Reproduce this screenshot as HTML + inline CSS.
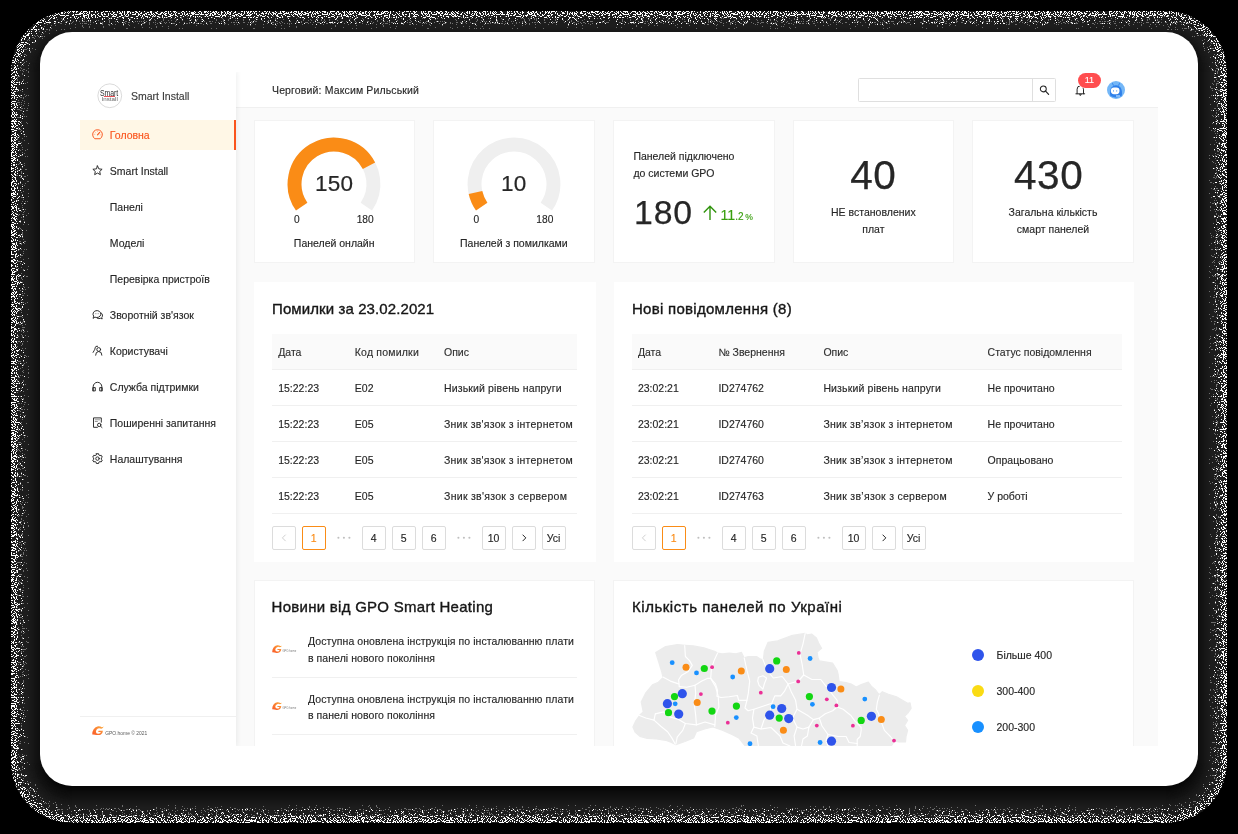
<!DOCTYPE html>
<html lang="uk">
<head>
<meta charset="utf-8">
<title>Smart Install</title>
<style>
*{box-sizing:border-box;margin:0;padding:0}
html,body{width:1238px;height:834px;overflow:hidden;background:#000}
body{font-family:"Liberation Sans",sans-serif;font-size:10.5px;color:#262626;position:relative;-webkit-text-stroke:.14px}
.abs{position:absolute}
#halo{position:absolute;left:0;top:0;width:1238px;height:834px}
#card{position:absolute;left:40px;top:32px;width:1158px;height:754px;background:#fff;border-radius:32px}
#app{opacity:.999;position:absolute;left:80px;top:72px;width:1078px;height:674px;overflow:hidden;background:#fafafa}
/* sidebar */
#side{position:absolute;left:0;top:0;width:156px;height:674px;background:#fff;box-shadow:1px 0 5px rgba(29,35,41,.08);z-index:3}
.mi{position:absolute;left:0;width:156px;height:30px;line-height:30px;padding-left:29.8px;font-size:10.5px;color:#262626;white-space:nowrap}
.mi.act{background:#fff7e6;color:#fa541c}
.mi.act:after{content:"";position:absolute;right:0;top:0;width:2.5px;height:30px;background:#fa541c}
.mi svg{position:absolute;left:11.7px;top:8.6px;width:11px;height:11px;overflow:visible}
/* header */
#head{position:absolute;left:156px;top:0;width:922px;height:35.6px;background:#fff;border-bottom:1px solid #f0f0f0;z-index:2}
/* panels */
.pn{position:absolute;background:#fff;border:1px solid #f3f3f3}
.pw{position:absolute;background:#fff}
.t{position:absolute;white-space:nowrap;line-height:18px}
.c{text-align:center}
</style>
</head>
<body>
<svg id="halo" width="1238" height="834" viewBox="0 0 1238 834">
<defs>
<clipPath id="hc"><rect x="11" y="11" width="1216" height="812" rx="61"/></clipPath>
<filter id="nz" x="0" y="0" width="1238" height="834" filterUnits="userSpaceOnUse" color-interpolation-filters="sRGB">
<feTurbulence type="fractalNoise" baseFrequency="0.85" numOctaves="1" seed="7" result="n"/>
<feColorMatrix in="n" type="matrix" values="0 0 0 0 0 0 0 0 0 0 0 0 0 0 0 2.5 0 0 0 -.75" result="na"/>
<feComposite in="SourceGraphic" in2="na" operator="arithmetic" k1="0" k2="1" k3="-1" k4="0" result="d"/>
<feColorMatrix in="d" type="matrix" values="0 0 0 0 1 0 0 0 0 1 0 0 0 0 1 0 0 0 255 0"/>
</filter>
<filter id="ng" x="0" y="0" width="1238" height="834" filterUnits="userSpaceOnUse" color-interpolation-filters="sRGB">
<feTurbulence type="fractalNoise" baseFrequency="0.85" numOctaves="1" seed="23" result="n"/>
<feColorMatrix in="n" type="matrix" values="0 0 0 0 0 0 0 0 0 0 0 0 0 0 0 2.5 0 0 0 -.75" result="na"/>
<feComposite in="SourceGraphic" in2="na" operator="arithmetic" k1="0" k2="1" k3="-1" k4="0" result="d"/>
<feColorMatrix in="d" type="matrix" values="0 0 0 0 1 0 0 0 0 1 0 0 0 0 1 0 0 0 255 0"/>
</filter>
</defs>
<rect x="11" y="11" width="1216" height="812" rx="61" fill="#1d1d1d"/>
<g clip-path="url(#hc)">
<rect x="27" y="27" width="1184" height="780" rx="45" fill="rgb(28,28,28)"/>
<rect x="28" y="28" width="1182" height="778" rx="44" fill="rgb(27,27,27)"/>
<rect x="29" y="29" width="1180" height="776" rx="43" fill="rgb(26,26,26)"/>
<rect x="30" y="30" width="1178" height="774" rx="42" fill="rgb(25,25,25)"/>
<rect x="31" y="31" width="1176" height="772" rx="41" fill="rgb(24,24,24)"/>
<rect x="32" y="32" width="1174" height="770" rx="40" fill="rgb(23,23,23)"/>
<rect x="33" y="33" width="1172" height="768" rx="39" fill="rgb(22,22,22)"/>
<rect x="34" y="34" width="1170" height="766" rx="38" fill="rgb(20,20,20)"/>
<rect x="35" y="35" width="1168" height="764" rx="37" fill="rgb(19,19,19)"/>
<rect x="36" y="36" width="1166" height="762" rx="36" fill="rgb(18,18,18)"/>
<rect x="37" y="37" width="1164" height="760" rx="35" fill="rgb(17,17,17)"/>
<rect x="38" y="38" width="1162" height="758" rx="34" fill="rgb(16,16,16)"/>
<rect x="39" y="39" width="1160" height="756" rx="33" fill="rgb(15,15,15)"/>
<rect x="40" y="40" width="1158" height="754" rx="32" fill="rgb(14,14,14)"/>
<rect x="41" y="41" width="1156" height="752" rx="31" fill="rgb(13,13,13)"/>
<rect x="42" y="42" width="1154" height="750" rx="30" fill="rgb(12,12,12)"/>
<rect x="43" y="43" width="1152" height="748" rx="29" fill="rgb(10,10,10)"/>
<rect x="44" y="44" width="1150" height="746" rx="28" fill="rgb(9,9,9)"/>
<rect x="45" y="45" width="1148" height="744" rx="27" fill="rgb(8,8,8)"/>
<rect x="46" y="46" width="1146" height="742" rx="26" fill="rgb(7,7,7)"/>
<rect x="47" y="47" width="1144" height="740" rx="25" fill="rgb(6,6,6)"/>
<rect x="48" y="48" width="1142" height="738" rx="24" fill="rgb(5,5,5)"/>
<g opacity="0.36"><g filter="url(#ng)" fill="none" stroke="#fff" stroke-width="1.05">
<rect x="16.5" y="16.5" width="1205" height="801" rx="55.5" stroke-opacity="0.08"/>
<rect x="17.5" y="17.5" width="1203" height="799" rx="54.5" stroke-opacity="0.14"/>
<rect x="18.5" y="18.5" width="1201" height="797" rx="53.5" stroke-opacity="0.2"/>
<rect x="19.5" y="19.5" width="1199" height="795" rx="52.5" stroke-opacity="0.22"/>
<rect x="20.5" y="20.5" width="1197" height="793" rx="51.5" stroke-opacity="0.22"/>
<rect x="21.5" y="21.5" width="1195" height="791" rx="50.5" stroke-opacity="0.2"/>
<rect x="22.5" y="22.5" width="1193" height="789" rx="49.5" stroke-opacity="0.18"/>
<rect x="23.5" y="23.5" width="1191" height="787" rx="48.5" stroke-opacity="0.15"/>
<rect x="24.5" y="24.5" width="1189" height="785" rx="47.5" stroke-opacity="0.12"/>
<rect x="25.5" y="25.5" width="1187" height="783" rx="46.5" stroke-opacity="0.09"/>
<rect x="26.5" y="26.5" width="1185" height="781" rx="45.5" stroke-opacity="0.07"/>
<rect x="27.5" y="27.5" width="1183" height="779" rx="44.5" stroke-opacity="0.05"/>
<rect x="28.5" y="28.5" width="1181" height="777" rx="43.5" stroke-opacity="0.03"/>
</g></g>
<g filter="url(#nz)" fill="none" stroke="#fff" stroke-width="1.05">
<rect x="11.5" y="11.5" width="1215" height="811" rx="60.5" stroke-opacity="0.45"/>
<rect x="12.5" y="12.5" width="1213" height="809" rx="59.5" stroke-opacity="0.45"/>
<rect x="13.5" y="13.5" width="1211" height="807" rx="58.5" stroke-opacity="0.44"/>
<rect x="14.5" y="14.5" width="1209" height="805" rx="57.5" stroke-opacity="0.42"/>
<rect x="15.5" y="15.5" width="1207" height="803" rx="56.5" stroke-opacity="0.38"/>
<rect x="16.5" y="16.5" width="1205" height="801" rx="55.5" stroke-opacity="0.33"/>
<rect x="17.5" y="17.5" width="1203" height="799" rx="54.5" stroke-opacity="0.26"/>
<rect x="18.5" y="18.5" width="1201" height="797" rx="53.5" stroke-opacity="0.2"/>
<rect x="19.5" y="19.5" width="1199" height="795" rx="52.5" stroke-opacity="0.15"/>
<rect x="20.5" y="20.5" width="1197" height="793" rx="51.5" stroke-opacity="0.11"/>
<rect x="21.5" y="21.5" width="1195" height="791" rx="50.5" stroke-opacity="0.08"/>
<rect x="22.5" y="22.5" width="1193" height="789" rx="49.5" stroke-opacity="0.06"/>
<rect x="23.5" y="23.5" width="1191" height="787" rx="48.5" stroke-opacity="0.04"/>
<rect x="24.5" y="24.5" width="1189" height="785" rx="47.5" stroke-opacity="0.03"/>
</g>
</g>
</svg>
<div id="card"></div>
<div id="app">
<div class="pn" style="left:173.60px;top:47.60px;width:161.80px;height:143.30px;"></div>
<div class="pn" style="left:353.25px;top:47.60px;width:161.80px;height:143.30px;"></div>
<div class="pn" style="left:532.90px;top:47.60px;width:161.80px;height:143.30px;"></div>
<div class="pn" style="left:712.55px;top:47.60px;width:161.80px;height:143.30px;"></div>
<div class="pn" style="left:892.20px;top:47.60px;width:161.80px;height:143.30px;"></div>
<svg class="abs" style="left:204.00px;top:61.80px;width:100px;height:100px" viewBox="-50 -50 100 100" fill="none" stroke-width="13.9"><path d="M-32.32 22.63A39.45 39.45 0 1 1 32.32 22.63" stroke="#efefef"/><path d="M-32.32 22.63A39.45 39.45 0 1 1 34.99 -18.22" stroke="#fa8c16"/></svg>
<div class="t" style="top:103.20px;font-size:22.5px;left:104.20px;width:300px;text-align:center;color:#262626;-webkit-text-stroke:.2px #262626;letter-spacing:.3px;">150</div>
<div class="t" style="top:139.47px;font-size:10.2px;left:66.80px;width:300px;text-align:center;color:#262626;">0</div>
<div class="t" style="top:139.47px;font-size:10.2px;left:135.20px;width:300px;text-align:center;color:#262626;">180</div>
<div class="t" style="top:161.86px;font-size:10.5px;left:104.20px;width:300px;text-align:center;color:#262626;">Панелей онлайн</div>
<svg class="abs" style="left:383.65px;top:61.80px;width:100px;height:100px" viewBox="-50 -50 100 100" fill="none" stroke-width="13.9"><path d="M-32.32 22.63A39.45 39.45 0 1 1 32.32 22.63" stroke="#efefef"/><path d="M-32.32 22.63A39.45 39.45 0 0 1 -38.51 8.54" stroke="#fa8c16"/></svg>
<div class="t" style="top:103.20px;font-size:22.5px;left:283.85px;width:300px;text-align:center;color:#262626;-webkit-text-stroke:.2px #262626;letter-spacing:.3px;">10</div>
<div class="t" style="top:139.47px;font-size:10.2px;left:246.45px;width:300px;text-align:center;color:#262626;">0</div>
<div class="t" style="top:139.47px;font-size:10.2px;left:314.85px;width:300px;text-align:center;color:#262626;">180</div>
<div class="t" style="top:161.86px;font-size:10.5px;left:283.85px;width:300px;text-align:center;color:#262626;">Панелей з помилками</div>
<div class="t" style="top:75.36px;font-size:10.5px;left:553.40px;">Панелей підключено</div>
<div class="t" style="top:92.26px;font-size:10.5px;left:553.40px;">до системи GPO</div>
<div class="t" style="top:130.71px;font-size:33.75px;left:554.00px;color:#262626;letter-spacing:.9px;-webkit-text-stroke:.25px #262626;">180</div>
<svg class="abs" style="left:621.5px;top:132px;width:16px;height:17px" viewBox="0 0 16 17" fill="none" stroke="#2f930c" stroke-width="1.4"><path d="M8 16V2.4M1.8 8.4L8 2.2L14.2 8.4"/></svg>
<div class="t" style="top:134.08px;font-size:14.2px;left:640.40px;color:#389e0d;">11</div>
<div class="t" style="top:135.53px;font-size:10px;left:655.20px;color:#389e0d;">.2</div>
<div class="t" style="top:136.02px;font-size:8.6px;left:665.20px;color:#389e0d;">%</div>
<div class="t" style="top:94.17px;font-size:40.5px;left:643.35px;width:300px;text-align:center;color:#262626;letter-spacing:.6px;-webkit-text-stroke:.25px #262626;">40</div>
<div class="t" style="top:131.26px;font-size:10.5px;left:643.35px;width:300px;text-align:center;">НЕ встановлених</div>
<div class="t" style="top:147.76px;font-size:10.5px;left:643.35px;width:300px;text-align:center;">плат</div>
<div class="t" style="top:94.17px;font-size:40.5px;left:818.60px;width:300px;text-align:center;color:#262626;letter-spacing:.6px;-webkit-text-stroke:.25px #262626;">430</div>
<div class="t" style="top:131.26px;font-size:10.5px;left:823.00px;width:300px;text-align:center;">Загальна кількість</div>
<div class="t" style="top:147.76px;font-size:10.5px;left:823.00px;width:300px;text-align:center;">смарт панелей</div>
<div class="pw" style="left:173.70px;top:210.00px;width:341.90px;height:280.00px;"></div>
<div class="t" style="top:227.80px;font-size:15px;left:192.00px;font-weight:400;-webkit-text-stroke:.36px #161616;color:#161616;letter-spacing:0.1px;">Помилки за 23.02.2021</div>
<div class="abs" style="left:192px;top:262px;width:305px;height:35.5px;background:#fafafa;border-bottom:1px solid #f0f0f0"></div>
<div class="t" style="top:270.96px;font-size:10.5px;left:198.20px;color:#2e2e2e;">Дата</div>
<div class="t" style="top:270.96px;font-size:10.5px;left:274.80px;color:#2e2e2e;letter-spacing:.2px;">Код помилки</div>
<div class="t" style="top:270.96px;font-size:10.5px;left:364.00px;color:#2e2e2e;">Опис</div>
<div class="abs" style="left:192px;top:333px;width:305px;height:1px;background:#f0f0f0"></div>
<div class="t" style="top:307.16px;font-size:10.5px;left:198.20px;color:#262626;">15:22:23</div>
<div class="t" style="top:307.16px;font-size:10.5px;left:274.80px;color:#262626;">E02</div>
<div class="t" style="top:307.16px;font-size:10.5px;left:364.00px;color:#262626;letter-spacing:0.14px;">Низький рівень напруги</div>
<div class="abs" style="left:192px;top:369px;width:305px;height:1px;background:#f0f0f0"></div>
<div class="t" style="top:343.16px;font-size:10.5px;left:198.20px;color:#262626;">15:22:23</div>
<div class="t" style="top:343.16px;font-size:10.5px;left:274.80px;color:#262626;">E05</div>
<div class="t" style="top:343.16px;font-size:10.5px;left:364.00px;color:#262626;letter-spacing:0.24px;">Зник зв'язок з інтернетом</div>
<div class="abs" style="left:192px;top:405px;width:305px;height:1px;background:#f0f0f0"></div>
<div class="t" style="top:379.16px;font-size:10.5px;left:198.20px;color:#262626;">15:22:23</div>
<div class="t" style="top:379.16px;font-size:10.5px;left:274.80px;color:#262626;">E05</div>
<div class="t" style="top:379.16px;font-size:10.5px;left:364.00px;color:#262626;letter-spacing:0.24px;">Зник зв'язок з інтернетом</div>
<div class="abs" style="left:192px;top:441px;width:305px;height:1px;background:#f0f0f0"></div>
<div class="t" style="top:415.16px;font-size:10.5px;left:198.20px;color:#262626;">15:22:23</div>
<div class="t" style="top:415.16px;font-size:10.5px;left:274.80px;color:#262626;">E05</div>
<div class="t" style="top:415.16px;font-size:10.5px;left:364.00px;color:#262626;letter-spacing:0.29px;">Зник зв'язок з сервером</div>
<div class="abs" style="left:191.60000000000002px;top:453.79999999999995px;width:24px;height:24px;border:1px solid #dcdcdc;border-radius:2px;background:#fff"></div>
<svg class="abs" style="left:191.60000000000002px;top:453.79999999999995px;width:24px;height:24px" viewBox="0 0 24 24" fill="none" stroke="#d0d0d0" stroke-width="1"><path d="M13.6 8.7L10.4 11.9L13.6 15.1"/></svg>
<div class="abs" style="left:221.60000000000002px;top:453.79999999999995px;width:24px;height:24px;border:1px solid #fa8c16;border-radius:2px;background:#fff"></div>
<div class="t" style="top:457.00px;font-size:10.5px;left:83.60px;width:300px;text-align:center;color:#fa8c16;">1</div>
<svg class="abs" style="left:251.60000000000002px;top:453.79999999999995px;width:24px;height:24px" viewBox="0 0 24 24" fill="#bfbfbf"><circle cx="6.4" cy="11.8" r="1.05"/><circle cx="11.9" cy="11.8" r="1.05"/><circle cx="17.4" cy="11.8" r="1.05"/></svg>
<div class="abs" style="left:281.6px;top:453.79999999999995px;width:24px;height:24px;border:1px solid #dcdcdc;border-radius:2px;background:#fff"></div>
<div class="t" style="top:457.00px;font-size:10.5px;left:143.60px;width:300px;text-align:center;color:#262626;">4</div>
<div class="abs" style="left:311.6px;top:453.79999999999995px;width:24px;height:24px;border:1px solid #dcdcdc;border-radius:2px;background:#fff"></div>
<div class="t" style="top:457.00px;font-size:10.5px;left:173.60px;width:300px;text-align:center;color:#262626;">5</div>
<div class="abs" style="left:341.6px;top:453.79999999999995px;width:24px;height:24px;border:1px solid #dcdcdc;border-radius:2px;background:#fff"></div>
<div class="t" style="top:457.00px;font-size:10.5px;left:203.60px;width:300px;text-align:center;color:#262626;">6</div>
<svg class="abs" style="left:371.6px;top:453.79999999999995px;width:24px;height:24px" viewBox="0 0 24 24" fill="#bfbfbf"><circle cx="6.4" cy="11.8" r="1.05"/><circle cx="11.9" cy="11.8" r="1.05"/><circle cx="17.4" cy="11.8" r="1.05"/></svg>
<div class="abs" style="left:401.6px;top:453.79999999999995px;width:24px;height:24px;border:1px solid #dcdcdc;border-radius:2px;background:#fff"></div>
<div class="t" style="top:457.00px;font-size:10.5px;left:263.60px;width:300px;text-align:center;color:#262626;">10</div>
<div class="abs" style="left:431.6px;top:453.79999999999995px;width:24px;height:24px;border:1px solid #dcdcdc;border-radius:2px;background:#fff"></div>
<svg class="abs" style="left:431.6px;top:453.79999999999995px;width:24px;height:24px" viewBox="0 0 24 24" fill="none" stroke="#262626" stroke-width="1"><path d="M10.6 8.7L13.8 11.9L10.6 15.1"/></svg>
<div class="abs" style="left:461.6px;top:453.79999999999995px;width:24px;height:24px;border:1px solid #dcdcdc;border-radius:2px;background:#fff"></div>
<div class="t" style="top:457.00px;font-size:10.5px;left:323.60px;width:300px;text-align:center;color:#262626;">Усі</div>
<div class="pw" style="left:533.70px;top:210.00px;width:520.50px;height:280.00px;"></div>
<div class="t" style="top:227.80px;font-size:15px;left:552.00px;font-weight:400;-webkit-text-stroke:.36px #161616;color:#161616;letter-spacing:0.28px;">Нові повідомлення (8)</div>
<div class="abs" style="left:552px;top:262px;width:490px;height:35.5px;background:#fafafa;border-bottom:1px solid #f0f0f0"></div>
<div class="t" style="top:270.96px;font-size:10.5px;left:557.90px;color:#2e2e2e;">Дата</div>
<div class="t" style="top:270.96px;font-size:10.5px;left:638.40px;color:#2e2e2e;">№ Звернення</div>
<div class="t" style="top:270.96px;font-size:10.5px;left:743.40px;color:#2e2e2e;">Опис</div>
<div class="t" style="top:270.96px;font-size:10.5px;left:907.60px;color:#2e2e2e;">Статус повідомлення</div>
<div class="abs" style="left:552px;top:333px;width:490px;height:1px;background:#f0f0f0"></div>
<div class="t" style="top:307.16px;font-size:10.5px;left:557.90px;color:#262626;">23:02:21</div>
<div class="t" style="top:307.16px;font-size:10.5px;left:638.40px;color:#262626;">ID274762</div>
<div class="t" style="top:307.16px;font-size:10.5px;left:743.40px;color:#262626;letter-spacing:0.14px;">Низький рівень напруги</div>
<div class="t" style="top:307.16px;font-size:10.5px;left:907.60px;color:#262626;">Не прочитано</div>
<div class="abs" style="left:552px;top:369px;width:490px;height:1px;background:#f0f0f0"></div>
<div class="t" style="top:343.16px;font-size:10.5px;left:557.90px;color:#262626;">23:02:21</div>
<div class="t" style="top:343.16px;font-size:10.5px;left:638.40px;color:#262626;">ID274760</div>
<div class="t" style="top:343.16px;font-size:10.5px;left:743.40px;color:#262626;letter-spacing:0.24px;">Зник зв’язок з інтернетом</div>
<div class="t" style="top:343.16px;font-size:10.5px;left:907.60px;color:#262626;">Не прочитано</div>
<div class="abs" style="left:552px;top:405px;width:490px;height:1px;background:#f0f0f0"></div>
<div class="t" style="top:379.16px;font-size:10.5px;left:557.90px;color:#262626;">23:02:21</div>
<div class="t" style="top:379.16px;font-size:10.5px;left:638.40px;color:#262626;">ID274760</div>
<div class="t" style="top:379.16px;font-size:10.5px;left:743.40px;color:#262626;letter-spacing:0.24px;">Зник зв’язок з інтернетом</div>
<div class="t" style="top:379.16px;font-size:10.5px;left:907.60px;color:#262626;">Опрацьовано</div>
<div class="abs" style="left:552px;top:441px;width:490px;height:1px;background:#f0f0f0"></div>
<div class="t" style="top:415.16px;font-size:10.5px;left:557.90px;color:#262626;">23:02:21</div>
<div class="t" style="top:415.16px;font-size:10.5px;left:638.40px;color:#262626;">ID274763</div>
<div class="t" style="top:415.16px;font-size:10.5px;left:743.40px;color:#262626;letter-spacing:0.29px;">Зник зв’язок з сервером</div>
<div class="t" style="top:415.16px;font-size:10.5px;left:907.60px;color:#262626;">У роботі</div>
<div class="abs" style="left:551.6px;top:453.79999999999995px;width:24px;height:24px;border:1px solid #dcdcdc;border-radius:2px;background:#fff"></div>
<svg class="abs" style="left:551.6px;top:453.79999999999995px;width:24px;height:24px" viewBox="0 0 24 24" fill="none" stroke="#d0d0d0" stroke-width="1"><path d="M13.6 8.7L10.4 11.9L13.6 15.1"/></svg>
<div class="abs" style="left:581.6px;top:453.79999999999995px;width:24px;height:24px;border:1px solid #fa8c16;border-radius:2px;background:#fff"></div>
<div class="t" style="top:457.00px;font-size:10.5px;left:443.60px;width:300px;text-align:center;color:#fa8c16;">1</div>
<svg class="abs" style="left:611.6px;top:453.79999999999995px;width:24px;height:24px" viewBox="0 0 24 24" fill="#bfbfbf"><circle cx="6.4" cy="11.8" r="1.05"/><circle cx="11.9" cy="11.8" r="1.05"/><circle cx="17.4" cy="11.8" r="1.05"/></svg>
<div class="abs" style="left:641.6px;top:453.79999999999995px;width:24px;height:24px;border:1px solid #dcdcdc;border-radius:2px;background:#fff"></div>
<div class="t" style="top:457.00px;font-size:10.5px;left:503.60px;width:300px;text-align:center;color:#262626;">4</div>
<div class="abs" style="left:671.6px;top:453.79999999999995px;width:24px;height:24px;border:1px solid #dcdcdc;border-radius:2px;background:#fff"></div>
<div class="t" style="top:457.00px;font-size:10.5px;left:533.60px;width:300px;text-align:center;color:#262626;">5</div>
<div class="abs" style="left:701.6px;top:453.79999999999995px;width:24px;height:24px;border:1px solid #dcdcdc;border-radius:2px;background:#fff"></div>
<div class="t" style="top:457.00px;font-size:10.5px;left:563.60px;width:300px;text-align:center;color:#262626;">6</div>
<svg class="abs" style="left:731.6px;top:453.79999999999995px;width:24px;height:24px" viewBox="0 0 24 24" fill="#bfbfbf"><circle cx="6.4" cy="11.8" r="1.05"/><circle cx="11.9" cy="11.8" r="1.05"/><circle cx="17.4" cy="11.8" r="1.05"/></svg>
<div class="abs" style="left:761.6px;top:453.79999999999995px;width:24px;height:24px;border:1px solid #dcdcdc;border-radius:2px;background:#fff"></div>
<div class="t" style="top:457.00px;font-size:10.5px;left:623.60px;width:300px;text-align:center;color:#262626;">10</div>
<div class="abs" style="left:791.6px;top:453.79999999999995px;width:24px;height:24px;border:1px solid #dcdcdc;border-radius:2px;background:#fff"></div>
<svg class="abs" style="left:791.6px;top:453.79999999999995px;width:24px;height:24px" viewBox="0 0 24 24" fill="none" stroke="#262626" stroke-width="1"><path d="M10.6 8.7L13.8 11.9L10.6 15.1"/></svg>
<div class="abs" style="left:821.6px;top:453.79999999999995px;width:24px;height:24px;border:1px solid #dcdcdc;border-radius:2px;background:#fff"></div>
<div class="t" style="top:457.00px;font-size:10.5px;left:683.60px;width:300px;text-align:center;color:#262626;">Усі</div>
<div class="pn" style="left:173.60px;top:508.00px;width:341.80px;height:200.00px;"></div>
<div class="t" style="top:526.30px;font-size:15px;left:191.60px;font-weight:400;-webkit-text-stroke:.36px #161616;color:#161616;letter-spacing:.27px;">Новини від GPO Smart Heating</div>
<svg class="abs" style="left:191.89999999999998px;top:572.8px;width:10.2px;height:8.2px" viewBox="0 0 10.2 8.2"><path d="M10.1.3Q9.4 2.2 7.9 2.3Q6.4 1.5 5 2.2Q3.5 3 3.3 4.6Q3.3 6.4 5 6.6Q6.4 6.7 7.1 5.9L7.5 5.1H5.3L5.6 4H9.3Q9.2 6.2 7.6 7.3Q5.6 8.4 3.6 7.7Q2.4 7.1.2 7.2Q.2 4.6 1.4 2.8Q2.8.6 5.2.2Q7.2 0 8.3 1.1Q9.4 1.1 10.1.3Z" fill="url(#gg)"/></svg>
<div class="abs" style="left:202.39999999999998px;top:576.7px;font-size:2.7px;line-height:5px;color:#777;white-space:nowrap;letter-spacing:.05px;-webkit-text-stroke:0">GPO.home</div>
<div class="t" style="top:560.46px;font-size:10.5px;left:228.00px;color:#262626;letter-spacing:.06px;">Доступна оновлена інструкція по інсталюванню плати</div>
<div class="t" style="top:576.76px;font-size:10.5px;left:228.00px;color:#262626;letter-spacing:.06px;">в панелі нового покоління</div>
<div class="abs" style="left:191.60000000000002px;top:604.6px;width:305px;height:1px;background:#f0f0f0"></div>
<svg class="abs" style="left:191.89999999999998px;top:630.0px;width:10.2px;height:8.2px" viewBox="0 0 10.2 8.2"><path d="M10.1.3Q9.4 2.2 7.9 2.3Q6.4 1.5 5 2.2Q3.5 3 3.3 4.6Q3.3 6.4 5 6.6Q6.4 6.7 7.1 5.9L7.5 5.1H5.3L5.6 4H9.3Q9.2 6.2 7.6 7.3Q5.6 8.4 3.6 7.7Q2.4 7.1.2 7.2Q.2 4.6 1.4 2.8Q2.8.6 5.2.2Q7.2 0 8.3 1.1Q9.4 1.1 10.1.3Z" fill="url(#gg)"/></svg>
<div class="abs" style="left:202.39999999999998px;top:633.9000000000001px;font-size:2.7px;line-height:5px;color:#777;white-space:nowrap;letter-spacing:.05px;-webkit-text-stroke:0">GPO.home</div>
<div class="t" style="top:617.66px;font-size:10.5px;left:228.00px;color:#262626;letter-spacing:.06px;">Доступна оновлена інструкція по інсталюванню плати</div>
<div class="t" style="top:633.96px;font-size:10.5px;left:228.00px;color:#262626;letter-spacing:.06px;">в панелі нового покоління</div>
<div class="abs" style="left:191.60000000000002px;top:661.8000000000001px;width:305px;height:1px;background:#f0f0f0"></div>
<svg class="abs" style="left:191.89999999999998px;top:687.1999999999999px;width:10.2px;height:8.2px" viewBox="0 0 10.2 8.2"><path d="M10.1.3Q9.4 2.2 7.9 2.3Q6.4 1.5 5 2.2Q3.5 3 3.3 4.6Q3.3 6.4 5 6.6Q6.4 6.7 7.1 5.9L7.5 5.1H5.3L5.6 4H9.3Q9.2 6.2 7.6 7.3Q5.6 8.4 3.6 7.7Q2.4 7.1.2 7.2Q.2 4.6 1.4 2.8Q2.8.6 5.2.2Q7.2 0 8.3 1.1Q9.4 1.1 10.1.3Z" fill="url(#gg)"/></svg>
<div class="abs" style="left:202.39999999999998px;top:691.1px;font-size:2.7px;line-height:5px;color:#777;white-space:nowrap;letter-spacing:.05px;-webkit-text-stroke:0">GPO.home</div>
<div class="t" style="top:674.86px;font-size:10.5px;left:228.00px;color:#262626;letter-spacing:.06px;">Доступна оновлена інструкція по інсталюванню плати</div>
<div class="t" style="top:691.16px;font-size:10.5px;left:228.00px;color:#262626;letter-spacing:.06px;">в панелі нового покоління</div>
<div class="abs" style="left:191.60000000000002px;top:719.0px;width:305px;height:1px;background:#f0f0f0"></div>
<div class="pn" style="left:533.30px;top:508.00px;width:520.90px;height:200.00px;"></div>
<div class="t" style="top:526.30px;font-size:15px;left:552.00px;font-weight:400;-webkit-text-stroke:.36px #161616;color:#161616;letter-spacing:.53px;">Кількість панелей по Україні</div>
<svg class="abs" style="left:540px;top:548px;width:320px;height:140px" viewBox="0 0 320 140"><path d="M12.9 107.1L15.9 100.5L19.9 95.0L23.2 91.9L21.2 82.0L25.8 72.8L32.4 64.9L38.4 62.2L43.0 57.6L41.7 51.7L38.4 41.1L35.7 32.5L45.6 26.6L57.5 24.6L65.4 25.3L73.3 25.9L83.9 27.9L94.5 31.2L97.6 33.1L102.3 33.8L109.2 33.1L116.0 33.8L121.5 32.4L124.2 37.9L128.3 36.5L136.5 36.5L140.6 39.2L143.4 39.9L144.3 31.3L148.1 22.3L157.7 20.9L171.1 15.7L185.2 13.4L187.4 14.9L191.9 14.2L196.4 17.9L198.6 23.1L201.6 28.3L197.1 32.0L197.9 37.2L199.3 40.9L212.7 43.2L217.2 50.6L218.1 54.1L219.1 61.6L226.1 62.6L231.2 64.1L236.2 67.1L241.2 64.6L248.3 62.1L251.3 66.1L255.3 69.7L257.9 73.2L259.6 74.4L262.4 71.7L268.4 74.2L276.5 76.7L282.5 80.2L287.6 83.3L290.1 82.8L291.1 88.3L287.6 93.3L284.5 96.4L287.6 100.4L284.5 105.4L287.6 110.4L286.0 116.5L285.5 122.0L278.5 122.0L274.5 121.0L271.0 126.5L125.6 126.5L118.7 117.9L111.9 114.4L102.3 110.3L92.8 106.9L84.6 109.0L76.4 111.7L73.6 117.9L65.0 121.5L55.9 124.6L50.9 122.3L45.6 120.3L36.4 119.0L27.2 118.3L19.9 116.3L15.3 112.4Z" fill="#ececec" stroke="#ececec" stroke-width="1.2" stroke-linejoin="round"/><g fill="none" stroke="#fff" stroke-width="1.15" stroke-linejoin="round" stroke-linecap="round"><path d="M64.7 25.6L65.4 36.5L69.5 40.6L72.3 45.4L68.2 51.5L61.3 55.6L58.6 59.8L59.3 66.6"/><path d="M42.9 57.0L50.4 61.1L58.6 63.9"/><path d="M97.6 33.1L94.1 40.6L91.4 48.8L90.7 58.4L95.5 63.9L97.6 70.7L96.9 76.2L101.0 77.5"/><path d="M59.3 66.6L66.8 67.3L75.0 65.2L75.7 73.4L74.3 84.4L75.7 95.3L76.4 104.9"/><path d="M75.0 65.2L81.8 61.1L87.3 58.4L90.7 58.4"/><path d="M90.7 58.4L95.5 66.6L98.2 76.2L98.9 87.1L95.5 95.3L94.8 106.5"/><path d="M101.0 77.5L109.2 76.8L117.4 75.5L118.7 80.3L126.9 80.3"/><path d="M35.3 93.9L43.5 91.9L49.0 96.7L58.6 99.4L65.4 103.5L76.4 104.9L85.0 102.0L94.8 104.9"/><path d="M18.9 95.3L25.8 98.0L34.0 100.1L35.3 93.9"/><path d="M34.0 100.1L40.8 106.2L47.6 111.7L51.8 117.9L55.2 124.0"/><path d="M65.4 103.5L62.7 110.4L57.2 117.2L55.9 124.0"/><path d="M124.2 37.9L126.9 50.2L129.7 61.1L128.3 73.4L126.9 80.3L125.0 88.0L128.0 90.7"/><path d="M185.2 13.4L183.0 23.8L180.0 34.2L182.2 44.6L183.7 55.0L178.5 61.0L168.1 64.0"/><path d="M142.9 39.4L147.3 50.6L153.3 58.0L162.2 56.5L168.1 64.0L164.4 71.4L160.7 75.9L154.8 75.9L151.8 83.3L142.9 86.3L133.9 89.2L128.0 90.7"/><path d="M138.4 57.3L142.9 55.8L146.6 58.0L144.3 64.0L142.9 69.2L139.1 65.4L137.7 61.0L138.4 57.3"/><path d="M168.1 64.0L171.1 71.4L175.6 80.3L177.0 89.2L187.4 95.2L193.4 99.6L199.3 98.1L205.3 93.7L212.7 90.7L217.2 87.0"/><path d="M183.7 55.0L191.9 59.5L200.8 59.5L205.3 65.4L211.2 72.9L217.2 80.3L217.2 87.0"/><path d="M217.2 87.0L223.1 89.2L230.6 95.2L235.0 101.1L241.0 107.1"/><path d="M133.9 89.2L132.5 98.1L133.9 107.1L131.0 113.0L136.9 116.0L138.4 126.0"/><path d="M151.8 83.3L150.0 92.0L144.0 100.0L141.0 109.0L133.9 107.1"/><path d="M141.0 109.0L151.0 107.5L160.0 116.0L163.0 123.0L170.0 126.0"/><path d="M177.0 89.2L172.6 98.1L177.0 107.1L174.1 116.0L175.6 126.0"/><path d="M193.4 99.6L188.9 107.1L187.4 116.0L183.0 119.0L181.5 126.0"/><path d="M177.0 107.1L183.0 109.0L188.9 107.1"/><path d="M259.4 75.2L257.3 82.3L256.3 89.3L258.4 93.3L261.4 102.4L264.4 110.4L270.4 116.5L273.5 120.5"/><path d="M241.0 107.1L241.2 110.4L240.2 116.5L237.2 119.5L237.2 126.0"/><path d="M208.0 114.5L218.1 116.5L226.1 116.5L229.1 122.5L237.2 123.5"/><path d="M199.3 98.1L202.0 106.0L208.0 114.5L206.0 121.0L208.0 126.0"/></g><circle cx="52.2" cy="42.7" r="2.4" fill="#1890ff"/><circle cx="66.0" cy="47.2" r="3.5" fill="#fa8c16"/><circle cx="76.5" cy="52.9" r="2.4" fill="#1890ff"/><circle cx="84.3" cy="48.5" r="3.6" fill="#12d612"/><circle cx="92.1" cy="47.2" r="1.9" fill="#eb2f96"/><circle cx="121.3" cy="51.0" r="3.5" fill="#fa8c16"/><circle cx="112.7" cy="57.0" r="2.4" fill="#1890ff"/><circle cx="62.3" cy="73.7" r="4.6" fill="#2f54eb"/><circle cx="54.5" cy="76.6" r="3.6" fill="#12d612"/><circle cx="47.4" cy="83.7" r="4.6" fill="#2f54eb"/><circle cx="55.2" cy="83.8" r="2.4" fill="#1890ff"/><circle cx="48.5" cy="92.7" r="3.6" fill="#12d612"/><circle cx="58.7" cy="94.1" r="4.6" fill="#2f54eb"/><circle cx="80.9" cy="74.1" r="1.9" fill="#eb2f96"/><circle cx="77.2" cy="82.4" r="3.5" fill="#fa8c16"/><circle cx="92.0" cy="91.1" r="3.6" fill="#12d612"/><circle cx="116.4" cy="86.1" r="3.6" fill="#12d612"/><circle cx="116.3" cy="97.6" r="2.4" fill="#1890ff"/><circle cx="107.8" cy="102.7" r="1.9" fill="#eb2f96"/><circle cx="130.0" cy="123.7" r="2.4" fill="#1890ff"/><circle cx="140.8" cy="72.7" r="1.9" fill="#eb2f96"/><circle cx="178.8" cy="32.9" r="1.9" fill="#eb2f96"/><circle cx="190.1" cy="38.5" r="2.4" fill="#1890ff"/><circle cx="156.7" cy="40.9" r="3.6" fill="#12d612"/><circle cx="149.7" cy="48.7" r="4.6" fill="#2f54eb"/><circle cx="166.3" cy="49.4" r="3.5" fill="#fa8c16"/><circle cx="178.2" cy="61.4" r="1.9" fill="#eb2f96"/><circle cx="211.5" cy="67.5" r="4.6" fill="#2f54eb"/><circle cx="220.9" cy="68.9" r="3.5" fill="#fa8c16"/><circle cx="189.4" cy="76.6" r="3.6" fill="#12d612"/><circle cx="192.4" cy="84.3" r="2.4" fill="#1890ff"/><circle cx="206.8" cy="79.3" r="1.9" fill="#eb2f96"/><circle cx="216.4" cy="85.4" r="1.9" fill="#eb2f96"/><circle cx="244.8" cy="79.1" r="2.4" fill="#1890ff"/><circle cx="153.1" cy="86.7" r="2.4" fill="#1890ff"/><circle cx="161.7" cy="88.5" r="4.6" fill="#2f54eb"/><circle cx="149.7" cy="95.2" r="4.6" fill="#2f54eb"/><circle cx="159.2" cy="98.1" r="3.6" fill="#12d612"/><circle cx="168.7" cy="98.6" r="4.6" fill="#2f54eb"/><circle cx="163.4" cy="110.2" r="3.5" fill="#fa8c16"/><circle cx="196.8" cy="105.6" r="1.9" fill="#eb2f96"/><circle cx="232.9" cy="105.7" r="1.9" fill="#eb2f96"/><circle cx="241.2" cy="100.4" r="3.6" fill="#12d612"/><circle cx="251.4" cy="96.3" r="4.6" fill="#2f54eb"/><circle cx="261.3" cy="99.6" r="3.5" fill="#fa8c16"/><circle cx="200.1" cy="122.5" r="2.4" fill="#1890ff"/><circle cx="211.5" cy="121.2" r="4.6" fill="#2f54eb"/><circle cx="274.0" cy="120.6" r="1.9" fill="#eb2f96"/></svg>
<div class="abs" style="left:892.2px;top:576.9px;width:12px;height:12px;border-radius:6px;background:#2f54eb"></div>
<div class="t" style="top:574.16px;font-size:10.5px;left:916.50px;">Більше 400</div>
<div class="abs" style="left:892.2px;top:612.9499999999999px;width:12px;height:12px;border-radius:6px;background:#fadb14"></div>
<div class="t" style="top:610.21px;font-size:10.5px;left:916.50px;">300-400</div>
<div class="abs" style="left:892.2px;top:649.0px;width:12px;height:12px;border-radius:6px;background:#1890ff"></div>
<div class="t" style="top:646.26px;font-size:10.5px;left:916.50px;">200-300</div>
<div id="head">
<div class="t" style="left:36px;top:0;line-height:36px;color:#282828;letter-spacing:.14px">Черговий: Максим Рильський</div>
<div class="abs" style="left:622px;top:6px;width:198px;height:24px;border:1px solid #dfdfdf;border-radius:1.5px;background:#fff"></div>
<div class="abs" style="left:795.5px;top:6px;width:1px;height:24px;background:#dfdfdf"></div>
<svg class="abs" style="left:802px;top:12px;width:12px;height:12px" viewBox="0 0 12 12" fill="none" stroke="#262626" stroke-width="1.05" stroke-linecap="round"><circle cx="5.3" cy="4.9" r="2.95"/><path d="M7.6 7.2L10.6 10.3" stroke-width="1.2"/></svg>
<svg class="abs" style="left:838px;top:11px;width:13px;height:14px" viewBox="0 0 13 14" fill="none" stroke="#262626" stroke-width="1" stroke-linejoin="round" stroke-linecap="round"><path d="M1.9 10.8H10.7M3.1 10.8V6.2A3.2 3.3 0 0 1 9.5 6.2V10.8"/><path d="M5.3 11.6L6.3 12.8L7.3 11.6Z" fill="#262626" stroke-width=".5"/></svg>
<div class="abs" style="left:841.8px;top:1.1px;width:23.1px;height:14.9px;border-radius:7.5px;background:#ff4d4f;color:#fff;font-size:9px;line-height:15.9px;text-align:center;box-shadow:0 0 0 .6px #fff">11</div>
<svg class="abs" style="left:871px;top:8.7px;width:18px;height:18px" viewBox="0 0 18 18"><defs><clipPath id="av"><circle cx="9" cy="9" r="9"/></clipPath></defs><circle cx="9" cy="9" r="9" fill="#74b7f7"/><g clip-path="url(#av)"><path d="M3.2 14.6C2.4 9.5 4 4.2 9 4.2S15.6 9.5 14.8 14.6C13 17 5 17 3.2 14.6Z" fill="#2f80ea"/><path d="M6.5 4.6L5.4 2.2M11.5 4.6L12.6 2.2" stroke="#2f80ea" stroke-width=".9"/><rect x="3.9" y="6.6" width="8.6" height="6.6" rx="3.1" fill="#fff"/><rect x="6.1" y="9" width=".9" height="1.7" rx=".4" fill="#5aa2f2"/><rect x="9.3" y="9" width=".9" height="1.7" rx=".4" fill="#5aa2f2"/><path d="M9 15h4" stroke="#9ccbfa" stroke-width="1.4"/></g></svg>
</div>
<div id="side">
<svg class="abs" style="left:17px;top:11px;width:26px;height:26px" viewBox="0 0 26 26"><circle cx="12.75" cy="12.75" r="11.9" fill="#fff" stroke="#d0d0d0" stroke-width=".8"/>
<text x="12.1" y="12.9" font-family="Liberation Sans, sans-serif" font-size="9" fill="#2b2b2b" text-anchor="middle" textLength="18.4" lengthAdjust="spacingAndGlyphs">Smart</text>
<path d="M6.9 13.5H18" stroke="#e0242c" stroke-width=".8"/>
<text x="12.7" y="17.9" font-family="Liberation Sans, sans-serif" font-size="5.6" fill="#666" text-anchor="middle" textLength="16.2" lengthAdjust="spacingAndGlyphs">Install</text></svg>
<div class="t" style="left:51px;top:15px;color:#3a3a3a">Smart Install</div>
<div class="mi act" style="top:48px"><svg viewBox="0 0 11 11" fill="none" stroke="currentColor" stroke-width="0.95" stroke-linecap="round" stroke-linejoin="round"><path d="M2.5 9.5A4.9 4.9 0 1 1 8.5 9.5Z"/><path d="M5.5 5.9L7.7 3.3" stroke-width="1.1"/><path d="M2.2 5.3h.7M8.1 5.9h.7M5.5 1.9v.6M3 3l.4.4" stroke-width=".6" opacity=".6"/></svg>Головна</div>
<div class="mi" style="top:84px"><svg viewBox="0 0 11 11" fill="none" stroke="currentColor" stroke-width="0.95" stroke-linecap="round" stroke-linejoin="round"><path d="M5.50 0.90 L6.85 3.89 L10.11 4.25 L7.69 6.46 L8.35 9.67 L5.50 8.05 L2.65 9.67 L3.31 6.46 L0.89 4.25 L4.15 3.89Z"/></svg>Smart Install</div>
<div class="mi" style="top:120px">Панелі</div>
<div class="mi" style="top:156px">Моделі</div>
<div class="mi" style="top:192px">Перевірка пристроїв</div>
<div class="mi" style="top:228px"><svg viewBox="0 0 11 11" fill="none" stroke="currentColor" stroke-width="0.95" stroke-linecap="round" stroke-linejoin="round" stroke-width=".9"><path d="M1.2 9L1.7 7.1A3.9 3.5 0 1 1 3.3 8.3Z"/><path d="M9.2 3.9A3.3 3.1 0 0 1 9.8 8.4L10.2 9.9L8.6 9.3A3.6 3.2 0 0 1 5.2 9.2"/><path d="M3.4 4.7h.1M4.9 4.7h.1M6.4 4.7h.1" stroke-width=".7" opacity=".6"/></svg>Зворотній зв'язок</div>
<div class="mi" style="top:264px"><svg viewBox="0 0 11 11" fill="none" stroke="currentColor" stroke-width="0.95" stroke-linecap="round" stroke-linejoin="round" stroke-width=".9"><circle cx="6.7" cy="4.5" r="1.9"/><path d="M3.6 10.2A3.3 3.6 0 0 1 6.7 6.5A3.3 3.6 0 0 1 9.9 10.2"/><path d="M5.6 1.2Q3.3 .7 3.1 2.9Q3.1 4.3 2.3 5.3L1.1 7.4"/></svg>Користувачі</div>
<div class="mi" style="top:300px"><svg viewBox="0 0 11 11" fill="none" stroke="currentColor" stroke-width="0.95" stroke-linecap="round" stroke-linejoin="round"><path d="M1.2 9.8V5.7A4.3 4.4 0 0 1 9.8 5.7V9.8"/><path d="M1.2 6.6H3.3V9.9H1.2ZM9.8 6.6H7.7V9.9H9.8Z"/></svg>Служба підтримки</div>
<div class="mi" style="top:336px"><svg viewBox="0 0 11 11" fill="none" stroke="currentColor" stroke-width="0.95" stroke-linecap="round" stroke-linejoin="round" stroke-width=".9"><path d="M5.4 10.3H1.5V.9H9.3V5.2"/><path d="M3.2 2.8H7.6M3.2 4.5H5.4" stroke-width=".7" opacity=".7"/><circle cx="7.2" cy="7.9" r="1.7"/><path d="M8.5 9.2L10 10.5"/></svg>Поширенні запитання</div>
<div class="mi" style="top:372px"><svg viewBox="0 0 11 11" fill="none" stroke="currentColor" stroke-width="0.95" stroke-linecap="round" stroke-linejoin="round" stroke-width=".9"><path d="M4.36 0.73 L6.64 0.73 L6.78 1.92 L8.05 2.65 L9.14 2.18 L10.29 4.15 L9.33 4.87 L9.33 6.33 L10.29 7.05 L9.14 9.02 L8.05 8.55 L6.78 9.28 L6.64 10.47 L4.36 10.47 L4.22 9.28 L2.95 8.55 L1.86 9.02 L0.71 7.05 L1.67 6.33 L1.67 4.87 L0.71 4.15 L1.86 2.18 L2.95 2.65 L4.22 1.92Z"/><circle cx="5.5" cy="5.6" r="1.75"/></svg>Налаштування</div>
<div class="abs" style="left:0;top:644px;width:156px;height:1px;background:#f0f0f0"></div>
<svg class="abs" style="left:11.9px;top:653.7px;width:12px;height:9.6px" viewBox="0 0 10.2 8.2"><defs><linearGradient id="gg" x1="0" y1="1" x2="1" y2="0"><stop offset="0" stop-color="#fa5526"/><stop offset="1" stop-color="#fcae40"/></linearGradient></defs><path d="M10.1.3Q9.4 2.2 7.9 2.3Q6.4 1.5 5 2.2Q3.5 3 3.3 4.6Q3.3 6.4 5 6.6Q6.4 6.7 7.1 5.9L7.5 5.1H5.3L5.6 4H9.3Q9.2 6.2 7.6 7.3Q5.6 8.4 3.6 7.7Q2.4 7.1.2 7.2Q.2 4.6 1.4 2.8Q2.8.6 5.2.2Q7.2 0 8.3 1.1Q9.4 1.1 10.1.3Z" fill="url(#gg)"/></svg>
<div class="abs" style="left:25.2px;top:658px;font-size:4.95px;line-height:7px;color:#5a5a5a;white-space:nowrap;-webkit-text-stroke:0">GPO.home © 2021</div>
</div>
</div>
</body>
</html>
